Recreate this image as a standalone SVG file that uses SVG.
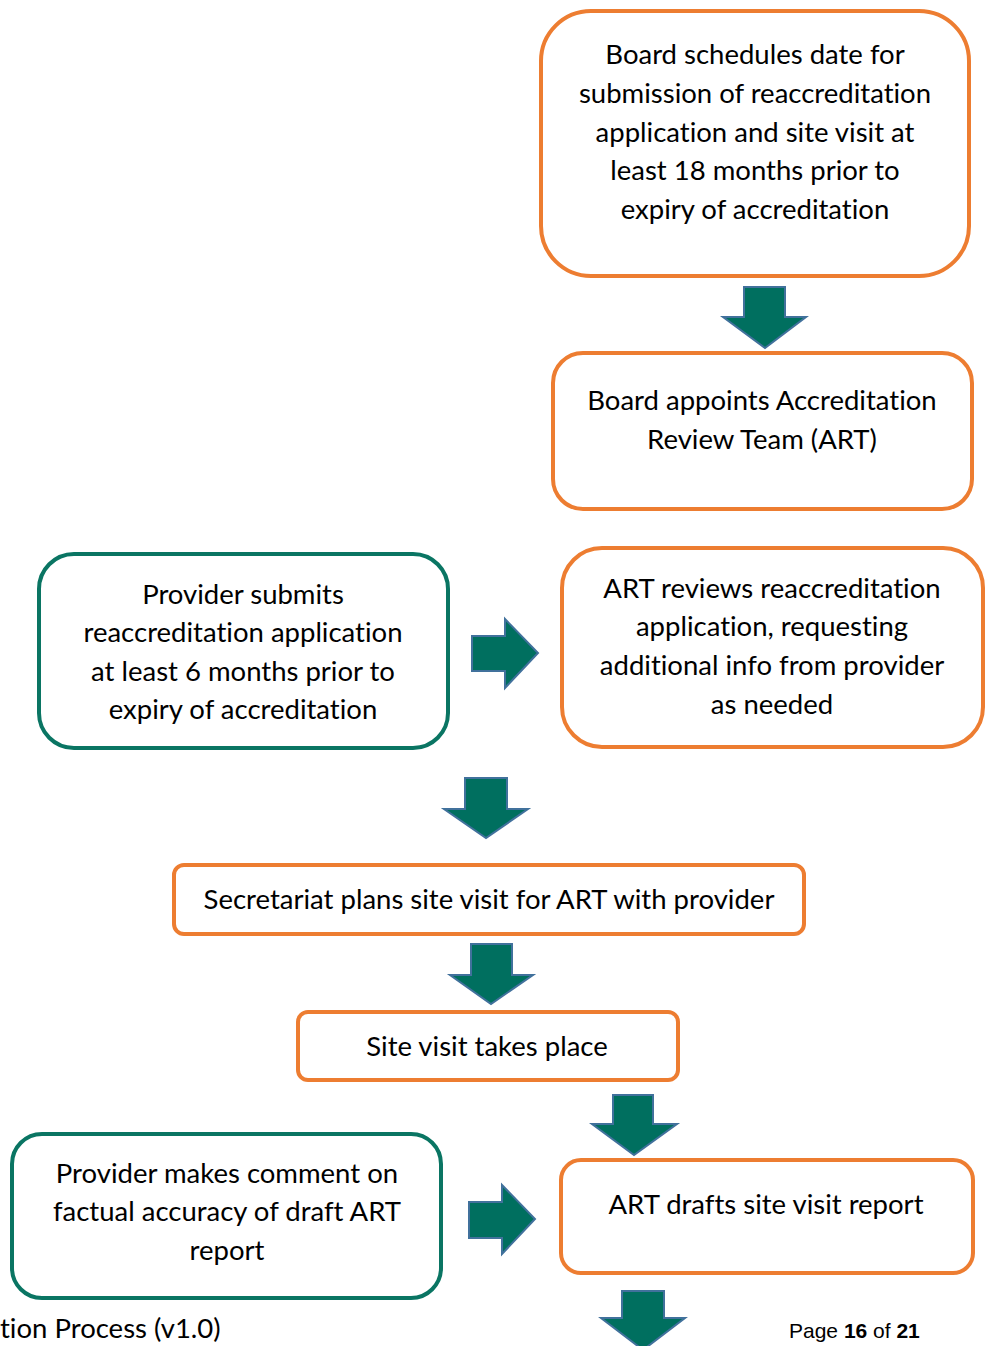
<svg xmlns="http://www.w3.org/2000/svg" width="986" height="1346" viewBox="0 0 986 1346">
<style>
.o{fill:#fff;stroke:#ED7D31;stroke-width:4}
.t{fill:#fff;stroke:#0A7563;stroke-width:4}
.a{fill:#006F5F;stroke:#41719C;stroke-width:2;stroke-linejoin:miter}
text{font-family:Lato,"Open Sans",sans-serif;font-size:27.5px;fill:#000;text-anchor:middle;font-variant-ligatures:none}
.f{font-family:"Liberation Sans Narrow","Liberation Sans",sans-serif;font-size:21px;text-anchor:start}
</style>
<rect width="986" height="1346" fill="#fff"/>
<g id="connectors">
<polygon class="a" points="744,287 785,287 785,317 806,317 765,348 723,317 744,317"/>
<polygon class="a" points="472,636 505,636 505,619 538,653 505,688 505,671 472,671"/>
<polygon class="a" points="465,778 507,778 507,809 528,809 486,838 444,809 465,809"/>
<polygon class="a" points="471,944 512,944 512,975 533,975 491,1004 450,975 471,975"/>
<polygon class="a" points="613,1095 653,1095 653,1124 677,1124 634,1155 592,1124 613,1124"/>
<polygon class="a" points="469,1202 502,1202 502,1185 535,1219 502,1254 502,1238 469,1238"/>
<polygon class="a" points="622,1291 664,1291 664,1318 685,1318 643,1350 601,1318 622,1318"/>
</g>
<g id="n1"><rect class="o" x="541" y="11" width="428" height="265" rx="50"/>
<text x="755" y="64">Board schedules date for</text>
<text x="755" y="103">submission of reaccreditation</text>
<text x="755" y="142">application and site visit at</text>
<text x="755" y="180">least 18 months prior to</text>
<text x="755" y="219">expiry of accreditation</text></g>
<g id="n2"><rect class="o" x="553" y="353" width="419" height="156" rx="30"/>
<text x="762" y="410">Board appoints Accreditation</text>
<text x="762" y="449">Review Team (ART)</text></g>
<g id="n3"><rect class="t" x="39" y="554" width="409" height="194" rx="35"/>
<text x="243" y="604">Provider submits</text>
<text x="243" y="642">reaccreditation application</text>
<text x="243" y="681">at least 6 months prior to</text>
<text x="243" y="719">expiry of accreditation</text></g>
<g id="n4"><rect class="o" x="562" y="548" width="421" height="199" rx="40"/>
<text x="772" y="598">ART reviews reaccreditation</text>
<text x="772" y="636">application, requesting</text>
<text x="772" y="675">additional info from provider</text>
<text x="772" y="714">as needed</text></g>
<g id="n5"><rect class="o" x="174" y="865" width="630" height="69" rx="10"/>
<text x="489" y="909">Secretariat plans site visit for ART with provider</text></g>
<g id="n6"><rect class="o" x="298" y="1012" width="380" height="68" rx="10"/>
<text x="487" y="1056">Site visit takes place</text></g>
<g id="n7"><rect class="t" x="12" y="1134" width="429" height="164" rx="30"/>
<text x="227" y="1183">Provider makes comment on</text>
<text x="227" y="1221">factual accuracy of draft ART</text>
<text x="227" y="1260">report</text></g>
<g id="n8"><rect class="o" x="561" y="1160" width="412" height="113" rx="20"/>
<text x="766" y="1214">ART drafts site visit report</text></g>
<g id="footer">
<text x="0" y="1338" style="text-anchor:start">tion Process (v1.0)</text>
<text class="f" x="789" y="1338">Page <tspan font-weight="bold">16</tspan> of <tspan font-weight="bold">21</tspan></text>
</g>
</svg>
